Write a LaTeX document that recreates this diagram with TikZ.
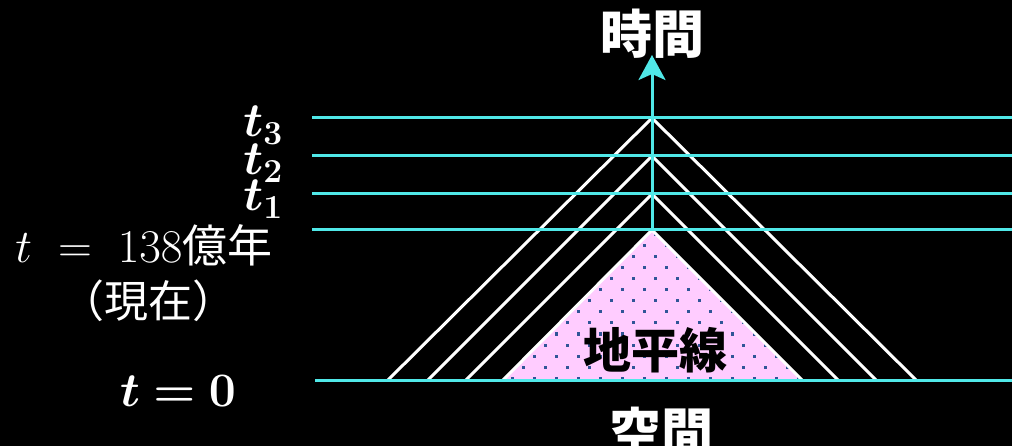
\RequirePackage{fix-cm}
\documentclass[tikz,border=0pt]{standalone}
\usepackage{amsmath,bm}
\usepackage{fontspec}
\newfontfamily\jp{Noto Sans CJK JP}
\usetikzlibrary{arrows.meta}
\definecolor{axcyan}{RGB}{80,232,232}
\definecolor{hzpink}{RGB}{255,204,255}
\definecolor{dotblue}{RGB}{47,85,151}
\tikzset{
  tline/.style={axcyan,line width=3pt},
  cone/.style={white,line width=3pt,line join=miter},
  whitelabel/.style={white,inner sep=0pt},
}
\begin{document}
\begin{tikzpicture}[x=1pt,y=-1pt]
\fill[black] (0,0) rectangle (1012,446);
\useasboundingbox (0,0) rectangle (1012,446);
% horizon triangle
\coordinate (hapex) at (652,230);
\coordinate (hl) at (503,380);
\coordinate (hr) at (802,380);
\fill[hzpink] (hapex) -- (hl) -- (hr) -- cycle;
\begin{scope}
\clip (hapex) -- (hl) -- (hr) -- cycle;
\foreach \i in {0,...,13}{
  \pgfmathtruncatemacro{\jmin}{-\i}
  \foreach \j in {\jmin,...,\i}{
    \pgfmathtruncatemacro{\odd}{mod(abs(\j+\i),2)}
    \ifnum\odd=0
      \fill[dotblue] ({655+11*\j-1.5},{235+11*\i-1.5}) rectangle ++(3,3);
    \fi
  }
}
\end{scope}
% cones
\coordinate (a3) at (652,118); \coordinate (l3) at (388,380); \coordinate (r3) at (916,380);
\coordinate (a2) at (652,156); \coordinate (l2) at (428,380); \coordinate (r2) at (876,380);
\coordinate (a1) at (652,194); \coordinate (l1) at (466,380); \coordinate (r1) at (838,380);
\draw[cone] (l3) -- (a3) -- (r3);
\draw[cone] (l2) -- (a2) -- (r2);
\draw[cone] (l1) -- (a1) -- (r1);
\draw[cone] (hl) -- (hapex) -- (hr);
% time lines
\coordinate (s3) at (312,118); \coordinate (e3) at (1012,118);
\coordinate (s2) at (312,156); \coordinate (e2) at (1012,156);
\coordinate (s1) at (312,194); \coordinate (e1) at (1012,194);
\coordinate (s0) at (312,230); \coordinate (e0) at (1012,230);
\coordinate (sb) at (315,380); \coordinate (eb) at (1012,380);
\draw[tline] (s3) -- (e3);
\draw[tline] (s2) -- (e2);
\draw[tline] (s1) -- (e1);
\draw[tline] (s0) -- (e0);
\draw[tline] (sb) -- (eb);
% axis
\coordinate (axt) at (652,55);
\draw[tline,-{Stealth[length=25pt,width=27pt,inset=6pt]}] (hapex) -- (axt);
% labels
\node[whitelabel,font=\jp\bfseries\fontsize{52}{52}\selectfont] (time) at (652,34) {時間};
\node[whitelabel,font=\jp\bfseries\fontsize{52}{52}\selectfont] (space) at (661,432) {空間};
\node[inner sep=0pt,black,font=\jp\bfseries\fontsize{48}{48}\selectfont] (hz) at (655,350) {地平線};
\node[whitelabel,anchor=base east,font=\fontsize{48}{48}\selectfont] (t3) at (283,137) {$\bm{t_3}$};
\node[whitelabel,anchor=base east,font=\fontsize{48}{48}\selectfont] (t2) at (283,175) {$\bm{t_2}$};
\node[whitelabel,anchor=base east,font=\fontsize{48}{48}\selectfont] (t1) at (283,211) {$\bm{t_1}$};
\node[whitelabel,anchor=base,font=\fontsize{47}{47}\selectfont] (now) at (144,263) {$t\;=\;138${\jp\fontsize{45}{45}\selectfont 億年}};
\node[whitelabel,anchor=base,font=\fontsize{44}{44}\selectfont] (nowp) at (148,318) {\jp （現在）};
\node[whitelabel,anchor=base,font=\fontsize{48}{48}\selectfont] (tz) at (178,406) {$\bm{t = 0}$};
\end{tikzpicture}
\end{document}
